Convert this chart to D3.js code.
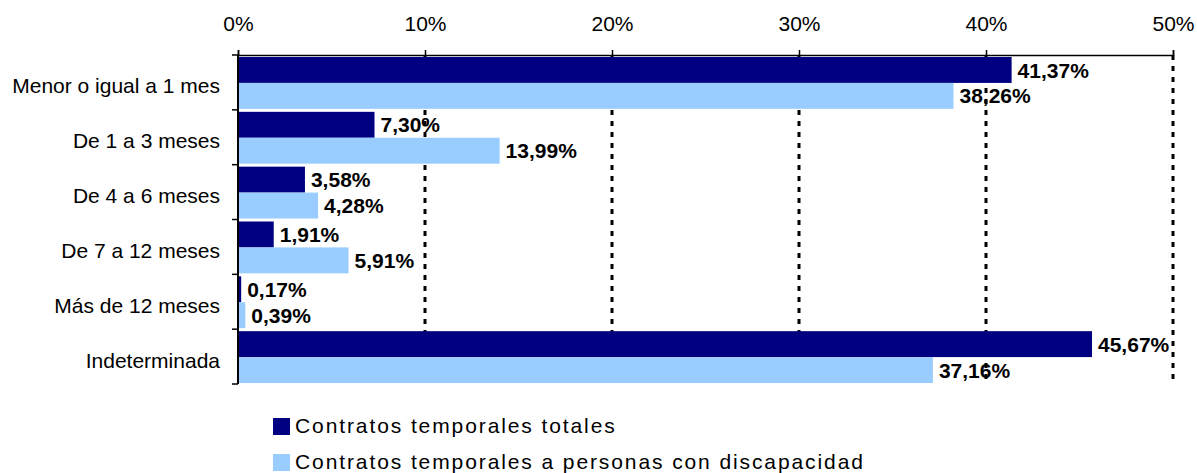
<!DOCTYPE html>
<html lang="es">
<head>
  <meta charset="UTF-8">
  <title>Contratos temporales por duración</title>
  <script src="https://d3js.org/d3.v7.min.js"></script>
  <style>
    body { margin: 0; background: #fff; }
    svg { display: block; font-family: "Liberation Sans", Arial, sans-serif; }
  </style>
</head>
<body>
  <div id="chart"></div>
  <script>
    // data (percentages)
    const categories = ["Menor o igual a 1 mes", "De 1 a 3 meses", "De 4 a 6 meses",
                        "De 7 a 12 meses", "Más de 12 meses", "Indeterminada"];
    const totales = [41.37, 7.30, 3.58, 1.91, 0.17, 45.67];
    const discapacidad = [38.26, 13.99, 4.28, 5.91, 0.39, 37.16];
    const seriesNames = ["Contratos temporales totales",
                         "Contratos temporales a personas con discapacidad"];
    const seriesColors = ["#000080", "#99CCFF"];
    const xTicks = [0, 10, 20, 30, 40, 50];

    const width = 1197, height = 473;
    const margin = { top: 55, left: 238, right: 24, bottom: 89 };

    const svg = d3.select("#chart").append("svg")
      .attr("width", width)
      .attr("height", height);

    const x = d3.scaleLinear().domain([0, 50]).range([margin.left, width - margin.right]);
    const y = d3.scaleBand().domain(categories).range([margin.top, height - margin.bottom]);
    const step = y.step();
    const ySub = d3.scaleBand().domain([0, 1]).range([2, step - 1]);

    const es = d3.formatLocale({ decimal: ",", thousands: ".", grouping: [3], currency: ["", "€"] });
    const fmt = v => es.format(".2f")(v) + "%";

    // dotted gridlines (behind the bars)
    svg.append("g")
      .selectAll("line")
      .data(xTicks.slice(1))
      .join("line")
      .attr("x1", d => x(d)).attr("x2", d => x(d))
      .attr("y1", margin.top).attr("y2", height - margin.bottom)
      .attr("stroke", "#000")
      .attr("stroke-width", 3)
      .attr("stroke-dasharray", "5,6");

    // bars
    const rows = categories.map((c, i) => ({ cat: c, values: [totales[i], discapacidad[i]] }));
    const row = svg.append("g")
      .selectAll("g")
      .data(rows)
      .join("g")
      .attr("transform", d => `translate(0,${y(d.cat)})`);

    row.selectAll("rect")
      .data(d => d.values)
      .join("rect")
      .attr("x", x(0))
      .attr("y", (d, i) => ySub(i))
      .attr("width", d => x(d) - x(0))
      .attr("height", ySub.bandwidth())
      .attr("fill", (d, i) => seriesColors[i]);

    // value labels
    row.selectAll("text")
      .data(d => d.values)
      .join("text")
      .attr("x", d => x(d) + 6)
      .attr("y", (d, i) => ySub(i) + ySub.bandwidth() / 2)
      .attr("dy", "0.36em")
      .attr("font-size", 21)
      .attr("font-weight", "bold")
      .attr("fill", "#000")
      .text(d => fmt(d));

    // top axis
    const xAxis = svg.append("g")
      .attr("transform", `translate(0,${margin.top})`)
      .call(d3.axisTop(x).tickValues(xTicks).tickFormat(d => d + "%").tickSize(5).tickPadding(19))
      .attr("font-family", null)
      .attr("font-size", null)
      .call(g => g.select(".domain").attr("stroke-width", 1.5));
    xAxis.selectAll("text").attr("font-size", 21).attr("fill", "#000");
    xAxis.selectAll(".tick line").attr("stroke-width", 1.5);

    // left axis with ticks on category boundaries
    const yAxis = svg.append("g").attr("stroke", "#000");
    yAxis.append("line")
      .attr("x1", x(0)).attr("x2", x(0))
      .attr("y1", margin.top).attr("y2", height - margin.bottom)
      .attr("stroke-width", 2);
    const bounds = categories.map(c => y(c)).concat([y(categories[categories.length - 1]) + step]);
    yAxis.selectAll(".btick")
      .data(bounds)
      .join("line")
      .attr("class", "btick")
      .attr("x1", x(0) - 6).attr("x2", x(0))
      .attr("y1", d => d).attr("y2", d => d)
      .attr("stroke-width", 1.5);

    svg.append("g")
      .selectAll("text")
      .data(categories)
      .join("text")
      .attr("x", x(0) - 18)
      .attr("y", d => y(d) + step / 2)
      .attr("dy", "0.52em")
      .attr("text-anchor", "end")
      .attr("font-size", 21)
      .attr("fill", "#000")
      .text(d => d);

    // legend
    const legend = svg.append("g")
      .selectAll("g")
      .data(seriesNames)
      .join("g")
      .attr("transform", (d, i) => `translate(273,${418 + i * 36})`);
    legend.append("rect")
      .attr("width", 17).attr("height", 17)
      .attr("fill", (d, i) => seriesColors[i]);
    legend.append("text")
      .attr("x", 22)
      .attr("y", 15)
      .attr("font-size", 21)
      .attr("letter-spacing", "1.9px")
      .attr("fill", "#000")
      .text(d => d);
  </script>
</body>
</html>
